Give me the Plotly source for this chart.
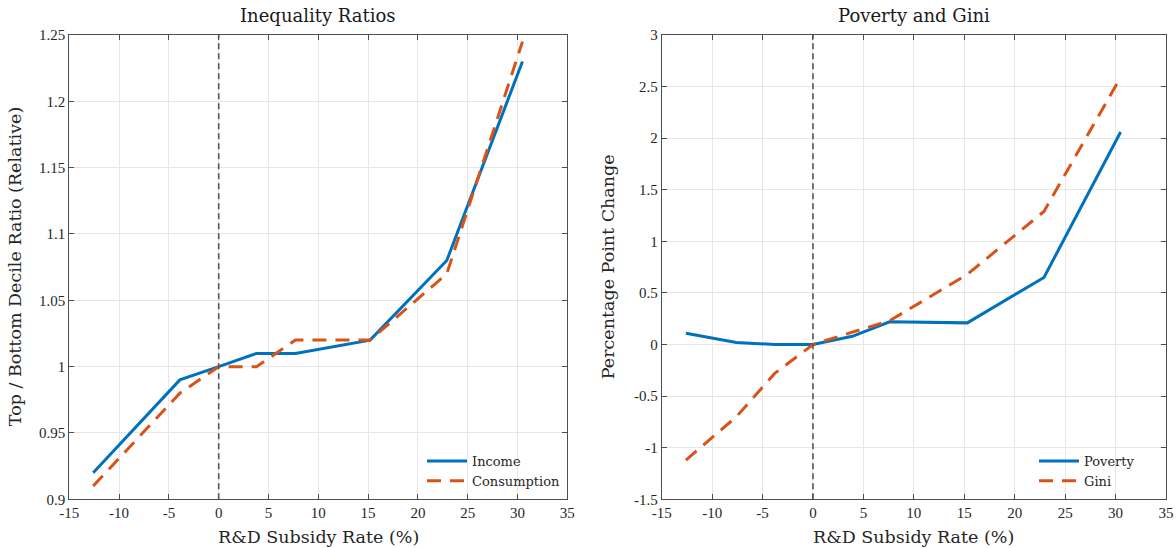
import plotly.graph_objects as go

# ---- data ----
subsidy_left = [-12.6, -7.6, -3.9, 0, 3.8, 7.7, 15.2, 22.9, 30.5]
income_ratio = [0.92, 0.96, 0.99, 1.00, 1.01, 1.01, 1.02, 1.08, 1.23]
consumption_ratio = [0.91, 0.95, 0.98, 1.00, 1.00, 1.02, 1.02, 1.07, 1.245]

subsidy_right = [-12.6, -7.6, -3.8, 0, 3.9, 7.6, 15.3, 22.9, 30.5]
poverty_change = [0.11, 0.02, 0.0, 0.0, 0.08, 0.22, 0.21, 0.65, 2.06]
gini_change = [-1.12, -0.70, -0.28, 0.0, 0.12, 0.23, 0.68, 1.29, 2.59]

x_ticks = [-15, -10, -5, 0, 5, 10, 15, 20, 25, 30, 35]
x_ticktext = ["-15", "-10", "-5", "0", "5", "10", "15", "20", "25", "30", "35"]
yl_ticks = [0.9, 0.95, 1.0, 1.05, 1.1, 1.15, 1.2, 1.25]
yl_ticktext = ["0.9", "0.95", "1", "1.05", "1.1", "1.15", "1.2", "1.25"]
yr_ticks = [-1.5, -1, -0.5, 0, 0.5, 1, 1.5, 2, 2.5, 3]
yr_ticktext = ["-1.5", "-1", "-0.5", "0", "0.5", "1", "1.5", "2", "2.5", "3"]

W, H = 1176, 548
TICKFONT = "Liberation Serif"
TEXTFONT = "DejaVu Serif"
BLUE = "#0072BD"
ORANGE = "#D95319"
AXC = "#4d4d4d"
GRID = "#e6e6e6"

xl_dom = [69.3 / W, 567.3 / W]
xr_dom = [661.7 / W, 1166.0 / W]
y_dom = [1 - 499.3 / H, 1 - 35.0 / H]

fig = go.Figure()

fig.add_trace(go.Scatter(x=subsidy_left, y=income_ratio, mode="lines", name="Income",
                         line=dict(color=BLUE, width=3), xaxis="x", yaxis="y", legend="legend"))
fig.add_trace(go.Scatter(x=subsidy_left, y=consumption_ratio, mode="lines", name="Consumption",
                         line=dict(color=ORANGE, width=3, dash="14px,9px"), xaxis="x", yaxis="y", legend="legend"))
fig.add_trace(go.Scatter(x=subsidy_right, y=poverty_change, mode="lines", name="Poverty",
                         line=dict(color=BLUE, width=3), xaxis="x2", yaxis="y2", legend="legend2"))
fig.add_trace(go.Scatter(x=subsidy_right, y=gini_change, mode="lines", name="Gini",
                         line=dict(color=ORANGE, width=3, dash="14px,9px"), xaxis="x2", yaxis="y2", legend="legend2"))

axis_common = dict(showline=True, linecolor=AXC, linewidth=1, mirror="allticks",
                   ticks="inside", ticklen=5, tickcolor=AXC, tickwidth=1,
                   showgrid=True, gridcolor=GRID, gridwidth=1, zeroline=False,
                   tickfont=dict(family=TICKFONT, size=15, color="#262626"))

leg_common = dict(yanchor="top", bgcolor="rgba(255,255,255,0)",
                  font=dict(family=TEXTFONT, size=13, color="#262626"),
                  tracegroupgap=0, itemwidth=40)

fig.update_layout(
    width=W, height=H,
    margin=dict(l=0, r=0, t=0, b=0, autoexpand=False),
    paper_bgcolor="white", plot_bgcolor="white",
    showlegend=True,
    xaxis=dict(domain=xl_dom, range=[-15, 35], tickvals=x_ticks, ticktext=x_ticktext,
               anchor="y", **axis_common),
    yaxis=dict(domain=y_dom, range=[0.9, 1.25], tickvals=yl_ticks, ticktext=yl_ticktext,
               anchor="x", **axis_common),
    xaxis2=dict(domain=xr_dom, range=[-15, 35], tickvals=x_ticks, ticktext=x_ticktext,
                anchor="y2", **axis_common),
    yaxis2=dict(domain=y_dom, range=[-1.5, 3], tickvals=yr_ticks, ticktext=yr_ticktext,
                anchor="x2", **axis_common),
    legend=dict(x=566 / W, y=1 - 446 / H, xanchor="right", **leg_common),
    legend2=dict(x=1140 / W, y=1 - 446 / H, xanchor="right", **leg_common),
)

# vertical reference lines at x = 0
for xr, yr in (("x", "y domain"), ("x2", "y2 domain")):
    fig.add_shape(type="line", xref=xr, yref=yr, x0=0, x1=0, y0=0, y1=1,
                  line=dict(color="#555555", width=1.6, dash="6px,4px"), layer="above")

# titles and axis labels
ann_font = dict(family=TEXTFONT, size=18, color="#1a1a1a")
lab_font = dict(family=TEXTFONT, size=17.5, color="#262626")
common_ann = dict(xref="paper", yref="paper", showarrow=False, xanchor="center", yanchor="middle")
fig.add_annotation(text="Inequality Ratios", x=(xl_dom[0] + xl_dom[1]) / 2, y=1 - 16 / H,
                   font=ann_font, **common_ann)
fig.add_annotation(text="Poverty and Gini", x=(xr_dom[0] + xr_dom[1]) / 2, y=1 - 16 / H,
                   font=ann_font, **common_ann)
fig.add_annotation(text="R&amp;D Subsidy Rate (%)", x=(xl_dom[0] + xl_dom[1]) / 2, y=1 - 537 / H,
                   font=lab_font, **common_ann)
fig.add_annotation(text="R&amp;D Subsidy Rate (%)", x=(xr_dom[0] + xr_dom[1]) / 2, y=1 - 537 / H,
                   font=lab_font, **common_ann)
fig.add_annotation(text="Top / Bottom Decile Ratio (Relative)", x=15 / W, y=(y_dom[0] + y_dom[1]) / 2,
                   textangle=-90, font=lab_font, **common_ann)
fig.add_annotation(text="Percentage Point Change", x=608 / W, y=(y_dom[0] + y_dom[1]) / 2,
                   textangle=-90, font=lab_font, **common_ann)

fig.write_html("out.html", post_script="document.body.style.margin='0';")
